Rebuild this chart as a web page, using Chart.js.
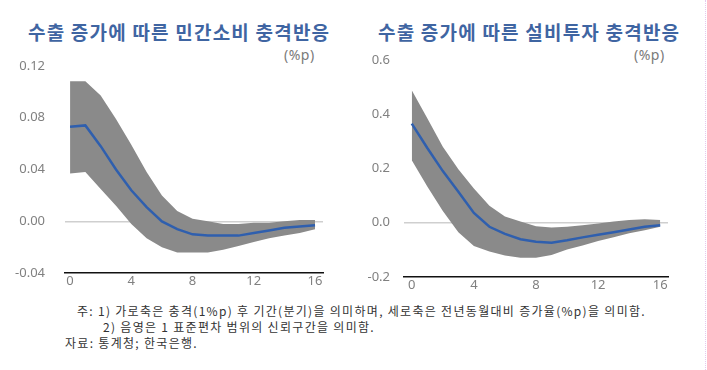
<!DOCTYPE html>
<html>
<head>
<meta charset="utf-8">
<script src="https://cdn.jsdelivr.net/npm/chart.js@4.4.1/dist/chart.umd.min.js"></script>
<style>
  body { margin: 0; background: #fff; width: 707px; height: 370px; overflow: hidden; position: relative; font-family: "Noto Sans CJK KR", sans-serif; }
  .title { position: absolute; top: 18px; font-size: 19px; font-weight: bold; color: #3f65a2; white-space: nowrap; letter-spacing: 1.2px; }
  .unit { position: absolute; top: 45px; font-size: 14px; color: #7a7a7a; font-family: "Noto Sans", sans-serif; letter-spacing: 0.5px; }
  .box { position: absolute; top: 38px; width: 340px; height: 263px; }
  .note { position: absolute; font-size: 12px; color: #333; white-space: nowrap; letter-spacing: 1.3px; }
  .edge { position: absolute; left: 705px; top: 0; height: 370px; border-left: 1px dotted #e6c8ee; }
</style>
</head>
<body>
<div class="title" style="left:28px">수출 증가에 따른 민간소비 충격반응</div>
<div class="unit" style="left:284px">(%p)</div>
<div class="title" style="left:378px">수출 증가에 따른 설비투자 충격반응</div>
<div class="unit" style="left:634px">(%p)</div>
<div class="box" style="left:0px"><canvas id="chartLeft"></canvas></div>
<div class="box" style="left:339px"><canvas id="chartRight"></canvas></div>
<div class="note" style="left:77px; top:302px">주: 1) 가로축은 충격(1%p) 후 기간(분기)을 의미하며, 세로축은 전년동월대비 증가율(%p)을 의미함.</div>
<div class="note" style="left:103px; top:318px">2) 음영은 1 표준편차 범위의 신뢰구간을 의미함.</div>
<div class="note" style="left:65px; top:334px">자료: 통계청; 한국은행.</div>
<div class="edge"></div>
<script>
'use strict'
// 분기 (0~16)
var quarters = [0, 1, 2, 3, 4, 5, 6, 7, 8, 9, 10, 11, 12, 13, 14, 15, 16];
var xTicks = [0, 4, 8, 12, 16];

// 민간소비 충격반응
var consMid   = [0.073, 0.074, 0.058, 0.040, 0.024, 0.011, 0.000, -0.006, -0.010, -0.011, -0.011, -0.011, -0.009, -0.007, -0.005, -0.004, -0.003];
var consUpper = [0.108, 0.108, 0.097, 0.079, 0.059, 0.038, 0.020, 0.008, 0.002, 0.000, -0.002, -0.002, -0.001, -0.001, 0.000, 0.001, 0.001];
var consLower = [0.037, 0.038, 0.025, 0.012, -0.002, -0.013, -0.020, -0.024, -0.024, -0.024, -0.022, -0.019, -0.016, -0.013, -0.011, -0.009, -0.006];
var consTicks = [-0.04, 0.00, 0.04, 0.08, 0.12];

// 설비투자 충격반응
var invMid   = [0.365, 0.275, 0.190, 0.114, 0.036, -0.015, -0.041, -0.061, -0.070, -0.074, -0.065, -0.054, -0.044, -0.035, -0.025, -0.015, -0.009];
var invUpper = [0.488, 0.385, 0.280, 0.197, 0.126, 0.062, 0.023, 0.004, -0.013, -0.018, -0.015, -0.009, -0.003, 0.004, 0.010, 0.013, 0.010];
var invLower = [0.230, 0.133, 0.043, -0.035, -0.086, -0.106, -0.121, -0.129, -0.129, -0.119, -0.099, -0.084, -0.067, -0.054, -0.039, -0.028, -0.015];
var invTicks = [-0.2, 0.0, 0.2, 0.4, 0.6];

function pts(arr) {
  return arr.map(function (v, i) { return { x: quarters[i], y: v }; });
}

function makeChart(id, mid, upper, lower, yTicks, digits, xMin, xMax, padRight, labelPad) {
  var tickFont = { family: 'Noto Sans', size: 13 };
  return new Chart(document.getElementById(id), {
    type: 'line',
    data: {
      datasets: [
        { data: pts(mid), borderColor: '#2f5fae', borderWidth: 2.5, pointRadius: 0, tension: 0, fill: false },
        { data: pts(upper), borderWidth: 0, borderColor: 'rgba(0,0,0,0)', backgroundColor: '#8a8a8a', pointRadius: 0, tension: 0, fill: '+1' },
        { data: pts(lower), borderWidth: 0, borderColor: 'rgba(0,0,0,0)', pointRadius: 0, tension: 0, fill: false }
      ]
    },
    options: {
      responsive: true,
      maintainAspectRatio: false,
      animation: false,
      layout: { padding: { top: 0, right: padRight, left: 0, bottom: 0 } },
      plugins: { legend: { display: false }, tooltip: { enabled: false } },
      scales: {
        x: {
          type: 'linear',
          min: xMin,
          max: xMax,
          afterBuildTicks: function (s) { s.ticks = xTicks.map(function (v) { return { value: v }; }); },
          afterFit: function (s) { s.height = 24; },
          grid: { display: false, drawTicks: false },
          border: { display: true, color: '#111', width: 1.5 },
          ticks: { color: '#808080', font: tickFont, padding: 0, maxRotation: 0 }
        },
        y: {
          min: yTicks[0],
          max: yTicks[yTicks.length - 1],
          afterBuildTicks: function (s) { s.ticks = yTicks.map(function (v) { return { value: v }; }); },
          afterFit: function (s) { s.width = 65; },
          grid: {
            drawTicks: false,
            lineWidth: 1.5,
            color: function (c) { return c.tick && c.tick.value === 0 ? '#cfcfcf' : 'rgba(0,0,0,0)'; }
          },
          border: { display: false },
          ticks: {
            color: '#808080', font: tickFont, padding: labelPad,
            callback: function (v) { return Number(v).toFixed(digits); }
          }
        }
      }
    }
  });
}

makeChart('chartLeft', consMid, consUpper, consLower, consTicks, 2, -0.33, 16.52, 17, 20);
makeChart('chartRight', invMid, invUpper, invLower, invTicks, 1, -0.5, 16.5, 11, 14);
</script>
</body>
</html>
